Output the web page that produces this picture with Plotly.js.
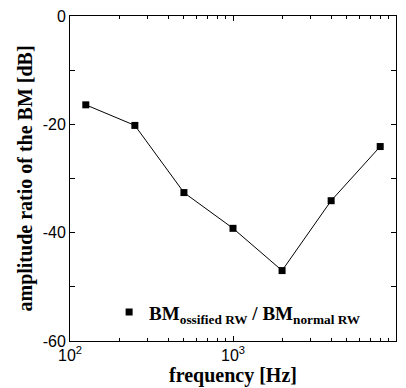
<!DOCTYPE html>
<html><head><meta charset="utf-8">
<script src="https://cdn.plot.ly/plotly-3.0.1.min.js"></script>
<style>html,body{margin:0;padding:0;background:#fff;}#chart{width:406px;height:388px;}</style>
</head><body><div id="chart"></div>
<script>
const frequencies = [125, 250, 500, 1000, 2000, 4000, 8000];
const amplitudeRatio = [-16.4, -20.2, -32.6, -39.2, -47.0, -34.1, -24.1];
const xTickVals = [100, 1000, 10000];
const xTickText = ['10<sup>2</sup>', '10<sup>3</sup>', '10<sup>4</sup>'];
const xMinorVals = [200,300,400,500,600,700,800,900,2000,3000,4000,5000,6000,7000,8000,9000];
const yTickVals = [0, -20, -40, -60];
const yTickText = ['0', '-20', '-40', '-60'];
const yMinorVals = [-10, -30, -50];
const seriesName = '<b>BM<sub>ossified RW</sub> / BM<sub>normal RW</sub></b>';

const traces = [
  {x: frequencies, y: amplitudeRatio, type: 'scatter', mode: 'lines+markers',
   line: {color: '#000', width: 1}, marker: {symbol: 'square', size: 7, color: '#000'},
   showlegend: false},
  {x: [null], y: [null], type: 'scatter', mode: 'markers', name: seriesName,
   marker: {symbol: 'square', size: 7, color: '#000'}, showlegend: true}
];
const axisCommon = {showline: true, linecolor: '#000', linewidth: 1, mirror: 'ticks',
  ticks: 'inside', ticklen: 5, tickcolor: '#000', showgrid: false, zeroline: false,
  tickfont: {family: 'Liberation Sans, Arial, sans-serif', size: 16, color: '#000'}};
const layout = {
  width: 406, height: 388,
  margin: {l: 70, r: 10, t: 16, b: 47},
  paper_bgcolor: '#fff', plot_bgcolor: '#fff',
  xaxis: Object.assign({}, axisCommon, {type: 'log', range: [2, 4], tickmode: 'array',
    tickvals: xTickVals, ticktext: xTickText, ticklabelstandoff: 0,
    minor: {tickmode: 'array', tickvals: xMinorVals, ticks: 'inside', ticklen: 3, tickcolor: '#000', showgrid: false},
    title: {text: '<b>frequency [Hz]</b>', standoff: 0, font: {family: 'Liberation Serif, Times New Roman, serif', size: 20, color: '#000'}}}),
  yaxis: Object.assign({}, axisCommon, {range: [-60, 0], tickmode: 'array', tickvals: yTickVals,
    ticktext: yTickText, ticklabelstandoff: 0,
    minor: {tickmode: 'array', tickvals: yMinorVals, ticks: 'inside', ticklen: 5, tickcolor: '#000', showgrid: false},
    title: {text: '<b>amplitude ratio of the BM [dB]</b>', standoff: 4, font: {family: 'Liberation Serif, Times New Roman, serif', size: 20, color: '#000'}}}),
  legend: {x: 0.12, y: 0.03, xanchor: 'left', yanchor: 'bottom', bgcolor: 'rgba(0,0,0,0)', borderwidth: 0,
    font: {family: 'Liberation Serif, Times New Roman, serif', size: 19, color: '#000'}, itemwidth: 30}
};
Plotly.newPlot('chart', traces, layout, {displayModeBar: false, staticPlot: true});
</script></body></html>
